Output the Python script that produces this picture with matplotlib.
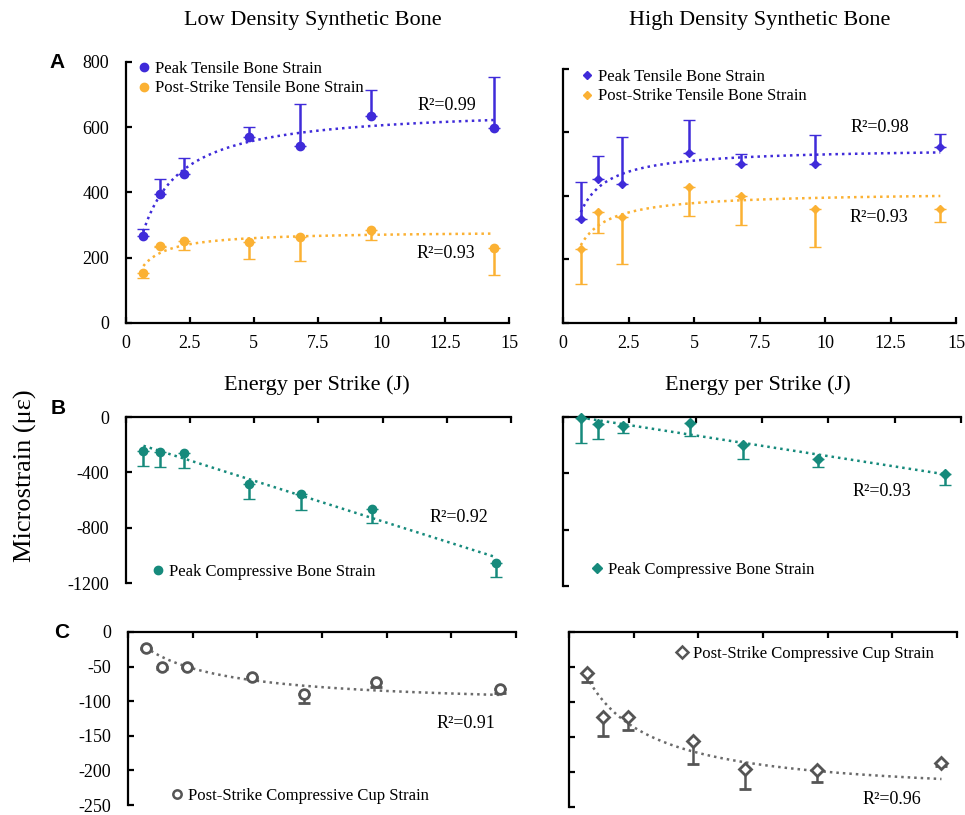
import numpy as np
import matplotlib
matplotlib.use("Agg")
import matplotlib.pyplot as plt
from matplotlib.lines import Line2D

plt.rcParams['axes.unicode_minus'] = False
plt.rcParams['font.family'] = ['Liberation Serif', 'DejaVu Serif']

W, H, DPI = 965, 815, 100

# ---------------- data ----------------
energy = [0.68, 1.33, 2.27, 4.8, 6.8, 9.6, 14.4]

low_peak_tensile = [268, 396, 458, 569, 544, 636, 599]
low_peak_tensile_err = [21, 44, 48, 32, 128, 79, 155]
low_post_tensile = [153, 237, 252, 249, 264, 286, 229]
low_post_tensile_err = [15, 4, 27, 52, 75, 33, 83]

high_peak_tensile = [328, 454, 438, 535, 501, 501, 553]
high_peak_tensile_err = [115, 72, 147, 103, 32, 91, 42]
high_post_tensile = [232, 349, 333, 427, 400, 360, 360]
high_post_tensile_err = [108, 64, 146, 90, 92, 122, 43]

low_peak_comp = [-245, -252, -259, -485, -557, -662, -1056]
low_peak_comp_err = [110, 113, 113, 105, 115, 106, 103]
high_peak_comp = [-5, -52, -66, -40, -198, -299, -402]
high_peak_comp_err = [183, 106, 45, 94, 98, 59, 80]

low_cup = [-23, -51, -50, -65, -90, -72, -83]
low_cup_err = [2, 3, 2, 3, 12, 7, 5]
high_cup = [-59, -122, -121, -156, -195, -197, -187]
high_cup_err = [13, 27, 19, 33, 29, 17, 5]

# saturating trend parameters (y = a*x/(b+x))
trend_low_peak = (662, 0.923)
trend_low_post = (282, 0.418)
trend_high_peak = (552, 0.396)
trend_high_post = (413, 0.466)
trend_low_cup = (-107.4, 2.605)
trend_high_cup = (-237.2, 1.865)

r2_labels = {
    'A_low': ['R²=0.99', 'R²=0.93'],
    'A_high': ['R²=0.98', 'R²=0.93'],
    'B_low': 'R²=0.92', 'B_high': 'R²=0.93',
    'C_low': 'R²=0.91', 'C_high': 'R²=0.96',
}
x_ticks = [0, 2.5, 5, 7.5, 10, 12.5, 15]
x_tick_labels = ['0', '2.5', '5', '7.5', '10', '12.5', '15']

BLUE = '#3F2BD9'
ORANGE = '#FBB133'
TEAL = '#168A7C'
GRAY = '#555555'
GRAYL = '#6A6A6A'

fig = plt.figure(figsize=(W / DPI, H / DPI), dpi=DPI)


def ax_px(x0, y0, x1, y1):
    return fig.add_axes([x0 / W, 1 - y1 / H, (x1 - x0) / W, (y1 - y0) / H])


def fx(x):
    return x / W


def fy(y):
    return 1 - y / H


def style(ax, top_axis=False, ylabels=True, xlabels=True):
    for s in ax.spines.values():
        s.set_linewidth(1.6)
    ax.spines['right'].set_visible(False)
    if top_axis:
        ax.spines['bottom'].set_visible(False)
        ax.xaxis.tick_top()
    else:
        ax.spines['top'].set_visible(False)
    ax.set_xlim(0, 15)
    ax.set_xticks(x_ticks)
    if xlabels:
        ax.set_xticklabels(x_tick_labels)
    else:
        ax.set_xticklabels([])
    ax.tick_params(direction='in', length=4, width=1.6, labelsize=13)
    ax.tick_params(axis='y', pad=12)
    ax.tick_params(axis='x', pad=9)
    if not ylabels:
        ax.set_yticklabels([])
    ax.set_facecolor('none')


def err(ax, y, e, color, marker, ms, up=True, mfc=None, mew=1.0):
    e = np.asarray(e)
    z = np.zeros_like(e)
    yerr = [z, e] if up else [e, z]
    ax.errorbar(energy, y, yerr=yerr, fmt=marker, color=color, ms=ms,
                mfc=mfc if mfc is not None else color, mec=color, mew=mew,
                elinewidth=1.8, capsize=4, capthick=1.8, clip_on=False, zorder=3)


def mm_curve(ax, params, color):
    a, b = params
    xs = np.linspace(energy[0], energy[-1], 200)
    ax.plot(xs, a * xs / (b + xs), color=color, lw=1.8, ls=(0, (1, 1.6)), zorder=2)


def lin_trend(ax, y, color):
    k, c = np.polyfit(energy, y, 1)
    xs = np.array([energy[0], energy[-1]])
    ax.plot(xs, k * xs + c, color=color, lw=1.8, ls=(0, (1, 1.6)), zorder=2)


def legend(ax, entries, x, y, spacing=0.2):
    handles = [Line2D([], [], ls='none', marker=m, color=c, mfc=f, mec=c, ms=s, mew=w)
               for (m, c, f, s, w, _) in entries]
    labels = [e[5] for e in entries]
    ax.legend(handles, labels, loc='upper left', bbox_to_anchor=(fx(x), fy(y)),
              bbox_transform=fig.transFigure, frameon=False, borderpad=0,
              borderaxespad=0, handlelength=0.6, handletextpad=0.35,
              labelspacing=spacing, prop={'family': 'Liberation Serif', 'size': 12})


def r2(ax, x, y, s):
    fig.text(fx(x), fy(y), s, fontsize=13, ha='left', va='center')


# ---------------- Panel A ----------------
axA1 = ax_px(126, 62, 509, 323)
style(axA1)
axA1.set_ylim(0, 800)
axA1.set_yticks([0, 200, 400, 600, 800])
mm_curve(axA1, trend_low_peak, BLUE)
mm_curve(axA1, trend_low_post, ORANGE)
err(axA1, low_peak_tensile, low_peak_tensile_err, BLUE, 'o', 6, up=True)
err(axA1, low_post_tensile, low_post_tensile_err, ORANGE, 'o', 6, up=False)
legend(axA1, [('o', BLUE, BLUE, 6, 1, 'Peak Tensile Bone Strain'),
              ('o', ORANGE, ORANGE, 6, 1, 'Post-Strike Tensile Bone Strain')], 139, 61)
r2(axA1, 418, 105, r2_labels['A_low'][0])
r2(axA1, 417, 253, r2_labels['A_low'][1])

axA2 = ax_px(563, 69, 956, 323)
style(axA2, ylabels=False)
axA2.set_ylim(0, 800)
axA2.set_yticks([0, 200, 400, 600, 800])
mm_curve(axA2, trend_high_peak, BLUE)
mm_curve(axA2, trend_high_post, ORANGE)
err(axA2, high_peak_tensile, high_peak_tensile_err, BLUE, 'D', 3.8, up=True)
err(axA2, high_post_tensile, high_post_tensile_err, ORANGE, 'D', 3.8, up=False)
legend(axA2, [('D', BLUE, BLUE, 4, 1, 'Peak Tensile Bone Strain'),
              ('D', ORANGE, ORANGE, 4, 1, 'Post-Strike Tensile Bone Strain')], 582, 69)
r2(axA2, 851, 128, r2_labels['A_high'][0])
r2(axA2, 850, 218, r2_labels['A_high'][1])

# ---------------- Panel B ----------------
axB1 = ax_px(126, 417, 511, 583)
style(axB1, top_axis=True, xlabels=False)
axB1.set_ylim(-1200, 0)
axB1.set_yticks([0, -400, -800, -1200])
lin_trend(axB1, low_peak_comp, TEAL)
err(axB1, low_peak_comp, low_peak_comp_err, TEAL, 'o', 6, up=False)
legend(axB1, [('o', TEAL, TEAL, 6, 1, 'Peak Compressive Bone Strain')], 153, 564)
r2(axB1, 430, 517, r2_labels['B_low'])

axB2 = ax_px(563, 417, 961, 586)
style(axB2, top_axis=True, xlabels=False, ylabels=False)
axB2.set_ylim(-1200, 0)
axB2.set_yticks([0, -400, -800, -1200])
lin_trend(axB2, high_peak_comp, TEAL)
err(axB2, high_peak_comp, high_peak_comp_err, TEAL, 'D', 5, up=False)
legend(axB2, [('D', TEAL, TEAL, 5, 1, 'Peak Compressive Bone Strain')], 592, 562)
r2(axB2, 853, 492, r2_labels['B_high'])

# ---------------- Panel C ----------------
axC1 = ax_px(128, 632, 516, 805)
style(axC1, top_axis=True, xlabels=False)
axC1.set_ylim(-250, 0)
axC1.set_yticks([0, -50, -100, -150, -200, -250])
mm_curve(axC1, trend_low_cup, GRAYL)
err(axC1, low_cup, low_cup_err, GRAY, 'o', 7, up=False, mfc='white', mew=2)
legend(axC1, [('o', GRAY, 'white', 6, 1.8, 'Post-Strike Compressive Cup Strain')], 172, 788)
r2(axC1, 437, 724, r2_labels['C_low'])

axC2 = ax_px(569, 632, 957, 807)
style(axC2, top_axis=True, xlabels=False, ylabels=False)
axC2.set_ylim(-250, 0)
axC2.set_yticks([0, -50, -100, -150, -200, -250])
mm_curve(axC2, trend_high_cup, GRAYL)
err(axC2, high_cup, high_cup_err, GRAY, 'D', 6.5, up=False, mfc='white', mew=2)
legend(axC2, [('D', GRAY, 'white', 6, 1.8, 'Post-Strike Compressive Cup Strain')], 677, 646)
r2(axC2, 863, 800, r2_labels['C_high'])

# ---------------- texts ----------------
fig.text(fx(313), fy(20), 'Low Density Synthetic Bone', fontsize=16, ha='center', va='center')
fig.text(fx(760), fy(20), 'High Density Synthetic Bone', fontsize=16, ha='center', va='center')
fig.text(fx(317), fy(385), 'Energy per Strike (J)', fontsize=16, ha='center', va='center')
fig.text(fx(758), fy(385), 'Energy per Strike (J)', fontsize=16, ha='center', va='center')
fig.text(fx(25), fy(476), 'Microstrain (με)', fontsize=19, rotation=90, ha='center', va='center')
for lab, (x, y) in {'A': (57, 62), 'B': (58, 409), 'C': (62, 632)}.items():
    fig.text(fx(x), fy(y), lab, fontsize=15, fontweight='bold',
             family='Liberation Sans', ha='center', va='center')

fig.savefig('out.png', dpi=DPI)
